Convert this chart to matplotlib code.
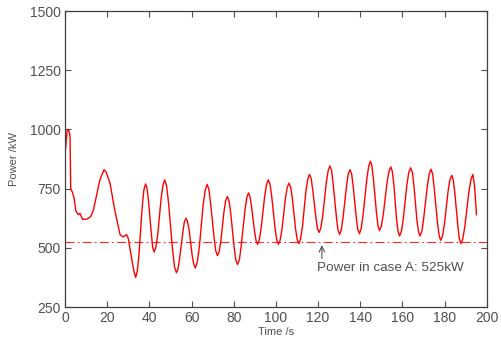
import matplotlib
matplotlib.use("Agg")
import matplotlib.pyplot as plt

# time (s) and power (kW)
time_s = [0.3, 1.0, 1.5, 2.0, 2.4, 2.7, 3.5, 4.3, 5.2, 6.3, 7.1, 8.4, 10.6, 12.2,
          13.5, 15.0, 16.5, 18.5, 19.5, 21.3, 23.7, 26.1, 27.6, 29.2, 30.0, 31.6,
          32.7, 33.5, 34.3, 35.1, 36.6, 37.4,
          38.2, 38.9, 39.6, 41.0, 41.6, 42.3, 43.1, 44.0, 45.6, 46.5,
          47.3, 48.2, 49.1, 51.0, 51.9, 52.8, 53.6, 54.3, 55.9, 56.6,
          57.4, 58.1, 58.9, 60.3, 61.1, 61.8, 62.7, 63.7, 65.5, 66.5,
          67.4, 68.2, 69.0, 70.7, 71.5, 72.3, 73.1, 73.9, 75.4, 76.2,
          77.0, 77.8, 78.6, 80.2, 81.0, 81.8, 82.7, 83.5, 85.3, 86.2,
          87.0, 87.7, 88.4, 89.9, 90.6, 91.3, 92.1, 93.0, 94.7, 95.6,
          96.4, 97.2, 98.0, 99.6, 100.4, 101.2, 102.0, 102.9, 104.5, 105.4,
          106.2, 107.0, 107.8, 109.3, 110.1, 110.9, 111.7, 112.6, 114.2, 115.1,
          115.9, 116.7, 117.4, 119.0, 119.7, 120.5, 121.3, 122.2, 123.9, 124.8,
          125.6, 126.4, 127.1, 128.7, 129.4, 130.2, 131.0, 131.8, 133.5, 134.3,
          135.1, 135.9, 136.6, 138.1, 138.8, 139.6, 140.4, 141.3, 143.1, 144.0,
          144.8, 145.5, 146.2, 147.7, 148.4, 149.1, 150.0, 150.9, 152.7, 153.6,
          154.5, 155.2, 155.9, 157.2, 157.9, 158.6, 159.5, 160.4, 162.1, 163.0,
          163.9, 164.7, 165.4, 166.8, 167.6, 168.3, 169.2, 170.0, 171.8, 172.7,
          173.5, 174.3, 175.0, 176.6, 177.4, 178.1, 179.0, 179.9, 181.6, 182.5,
          183.4, 184.1, 184.8, 186.3, 187.0, 187.7, 188.6, 189.6, 191.5, 192.5,
          193.4, 194.2, 195.1]
power_kw = [920, 995, 1000, 990, 970, 750, 735, 712, 655, 640, 645, 620, 622, 632,
            660, 722, 785, 830, 820, 775, 655, 556, 546, 556, 540, 455,
            400, 375, 401, 474, 671, 744,
            770, 751, 698, 554, 501, 482, 502, 558, 711, 767,
            787, 761, 689, 493, 421, 395, 410, 452, 567, 610,
            625, 611, 573, 468, 429, 415, 439, 503, 680, 744,
            768, 748, 693, 542, 487, 467, 484, 529, 654, 700,
            717, 698, 645, 502, 449, 430, 450, 505, 656, 712,
            732, 717, 678, 569, 530, 515, 533, 583, 719, 769,
            787, 769, 719, 583, 533, 515, 532, 579, 708, 756,
            773, 756, 709, 582, 535, 518, 538, 591, 737, 790,
            810, 794, 749, 626, 581, 565, 584, 635, 776, 827,
            846, 827, 774, 629, 576, 557, 575, 625, 762, 812,
            830, 812, 763, 628, 578, 560, 580, 636, 790, 846,
            866, 846, 793, 646, 593, 573, 591, 640, 775, 824,
            842, 822, 769, 623, 570, 550, 569, 622, 766, 819,
            838, 819, 766, 622, 569, 550, 569, 620, 761, 813,
            832, 812, 757, 607, 552, 532, 550, 600, 737, 788,
            806, 787, 734, 590, 537, 518, 538, 591, 737, 790,
            810, 760, 640]

case_a_power = 525
note_text = "Power in case A: 525kW"

grey = "#505050"
plt.rcParams["font.family"] = ["Liberation Sans", "DejaVu Sans"]

fig = plt.figure(figsize=(5.01, 3.37), dpi=100)
ax = fig.add_axes([0.1297, 0.089, 0.842, 0.878])

ax.plot(time_s, power_kw, color="red", linewidth=1.0)
ax.axhline(case_a_power, color="red", linestyle="-.", linewidth=0.8, alpha=0.85,
           dashes=(8, 3, 1.5, 3))

ax.annotate("", xy=(121.8, 511), xytext=(121.8, 455),
            arrowprops=dict(arrowstyle="->", color=grey, lw=0.8,
                            shrinkA=0, shrinkB=0))
ax.text(119.6, 413, note_text, fontsize=9.7, color=grey, va="center", ha="left")

ax.set_xlim(0, 200)
ax.set_ylim(250, 1500)
ax.set_xticks(range(0, 201, 20))
ax.set_yticks(range(250, 1501, 250))
ax.tick_params(direction="in", length=4, width=0.8, colors=grey, labelsize=10,
               top=True, right=True, pad=3)
for s in ax.spines.values():
    s.set_color("#404040")
    s.set_linewidth(0.9)

ax.set_xlabel("Time /s", fontsize=8, color=grey, labelpad=1)
ax.set_ylabel("Power /kW", fontsize=8, color=grey, labelpad=8)

fig.savefig("out.png", dpi=100)
